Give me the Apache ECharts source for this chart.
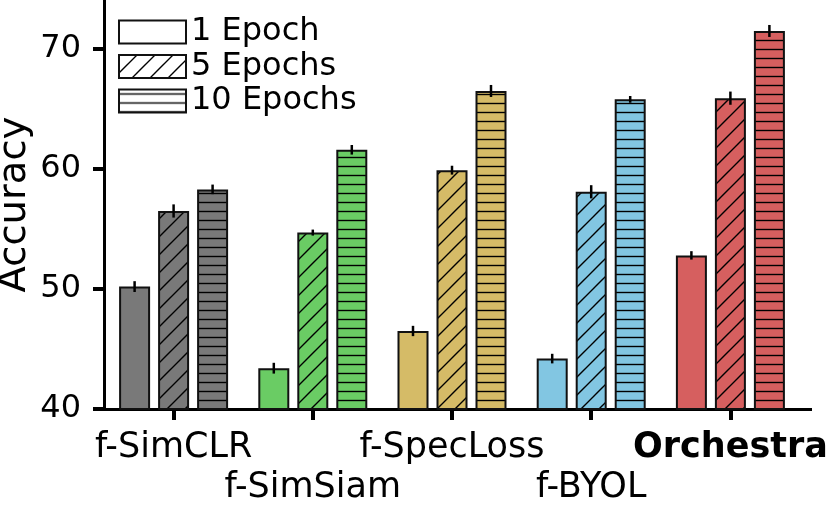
<!DOCTYPE html>
<html>
<head>
<meta charset="utf-8">
<script src="https://cdn.jsdelivr.net/npm/echarts@6/dist/echarts.min.js"></script>
<style>
html,body{margin:0;padding:0;background:#fff;}
#main{width:831px;height:511px;}
</style>
</head>
<body>
<div id="main"></div>
<script>
// ---- data ----
const categories = ['f-SimCLR', 'f-SimSiam', 'f-SpecLoss', 'f-BYOL', 'Orchestra'];
const methodColors = ['#797979', '#6acc64', '#d5bb67', '#82c6e2', '#d65f5f'];
const epochNames = ['1 Epoch', '5 Epochs', '10 Epochs'];
const acc1 = [50.2, 43.4, 46.5, 44.2, 52.8];
const acc5 = [56.5, 54.7, 59.9, 58.1, 65.9];
const acc10 = [58.3, 61.6, 66.5, 65.8, 71.5];
const err1 = [0.45, 0.45, 0.43, 0.4, 0.35];
const err5 = [0.55, 0.25, 0.37, 0.55, 0.55];
const err10 = [0.4, 0.4, 0.5, 0.28, 0.5];
const yTicks = [40, 50, 60, 70];

const FONT = 'DejaVu Sans';
const BAR_W = 31;
const BAR_GAP = 8;

function makePattern(bg, kind) {
  const c = document.createElement('canvas');
  const s = kind === 'diag' ? 18 : 9;
  c.width = s; c.height = s;
  const g = c.getContext('2d');
  g.fillStyle = bg; g.fillRect(0, 0, s, s);
  g.strokeStyle = '#000';
  g.lineWidth = 1.4;
  g.beginPath();
  if (kind === 'diag') {
    g.moveTo(-2, s + 2); g.lineTo(s + 2, -2);
    g.moveTo(-2, 2); g.lineTo(2, -2);
    g.moveTo(s - 2, s + 2); g.lineTo(s + 2, s - 2);
  } else if (kind === 'hline') {
    g.moveTo(0, 4.5); g.lineTo(s, 4.5);
  }
  g.stroke();
  return { image: c, repeat: 'repeat' };
}
const kinds = ['none', 'diag', 'hline'];
const accs = [acc1, acc5, acc10];
const errs = [err1, err5, err10];

const barSeries = epochNames.map((name, si) => ({
  name: name,
  type: 'bar',
  barWidth: BAR_W,
  barGap: (BAR_GAP / BAR_W * 100) + '%',
  itemStyle: { color: makePattern('#ffffff', kinds[si]), borderColor: '#111', borderWidth: 2 },
  data: accs[si].map((v, ci) => ({
    value: v,
    itemStyle: { color: makePattern(methodColors[ci], kinds[si]), borderColor: '#111', borderWidth: 2 }
  })),
  z: 2
}));

const errSeries = epochNames.map((name, si) => ({
  type: 'custom',
  name: name + ' err',
  z: 5,
  silent: true,
  encode: { x: 0, y: 1 },
  data: accs[si].map((v, ci) => [ci, v, errs[si][ci]]),
  renderItem: function (params, api) {
    const ci = api.value(0), v = api.value(1), e = api.value(2);
    const off = (si - 1) * (BAR_W + BAR_GAP);
    const top = api.coord([ci, v + e]);
    const bot = api.coord([ci, v - e]);
    return {
      type: 'line',
      shape: { x1: top[0] + off, y1: top[1], x2: bot[0] + off, y2: bot[1] },
      style: { stroke: '#000', lineWidth: 2.5 }
    };
  }
}));

const chart = echarts.init(document.getElementById('main'), null, { renderer: 'canvas' });
chart.setOption({
  animation: false,
  backgroundColor: '#fff',
  textStyle: { fontFamily: FONT },
  grid: { left: 104, right: 31, top: 0, bottom: 102, containLabel: false, outerBoundsMode: 'none' },
  legend: {
    orient: 'vertical',
    left: 118, top: 16,
    padding: 0,
    itemWidth: 67, itemHeight: 23,
    itemGap: 2.5,
    icon: 'rect',
    textStyle: { fontFamily: FONT, fontSize: 32, color: '#000' },
    data: epochNames.map((n, si) => ({
      name: n,
      itemStyle: { color: makePattern('#ffffff', kinds[si]), borderColor: '#111', borderWidth: 2, opacity: 1 }
    }))
  },
  xAxis: {
    type: 'category',
    data: categories,
    axisLine: { lineStyle: { color: '#000', width: 3 } },
    axisTick: { show: true, alignWithLabel: true, length: 11, lineStyle: { color: '#000', width: 4 } },
    axisLabel: {
      interval: 0,
      hideOverlap: false,
      margin: 19,
      color: '#000',
      formatter: function (val, idx) {
        const tag = val === 'Orchestra' ? 'b' : 'n';
        const t = '{' + tag + '|' + val + '}';
        return idx % 2 === 1 ? '{n| }\n' + t : t;
      },
      rich: {
        n: { fontFamily: FONT, fontSize: 35, lineHeight: 40, color: '#000' },
        b: { fontFamily: FONT, fontSize: 35, lineHeight: 40, fontWeight: 'bold', color: '#000' }
      }
    }
  },
  yAxis: {
    type: 'value',
    min: 40, max: 74.08,
    name: 'Accuracy',
    nameLocation: 'middle',
    nameGap: 70,
    nameMoveOverlap: false,
    nameTextStyle: { fontFamily: FONT, fontSize: 38.5, color: '#000' },
    splitLine: { show: false },
    axisLine: { show: true, lineStyle: { color: '#000', width: 3 } },
    axisTick: { show: true, length: 11, customValues: yTicks, lineStyle: { color: '#000', width: 4 } },
    axisLabel: { customValues: yTicks, margin: 23, fontFamily: FONT, fontSize: 32, color: '#000' }
  },
  series: barSeries.concat(errSeries)
});

// extend the x axis line a little past the last category band, as in the reference
const pLast = chart.convertToPixel({ xAxisIndex: 0 }, categories[categories.length - 1]);
const pPrev = chart.convertToPixel({ xAxisIndex: 0 }, categories[categories.length - 2]);
const yBase = chart.convertToPixel({ yAxisIndex: 0 }, 40);
if (isFinite(pLast) && isFinite(pPrev) && isFinite(yBase)) {
  const axisEnd = pLast + (pLast - pPrev) / 2;
  const yLine = Math.round(yBase) + 0.5;
  chart.setOption({
    graphic: [{
      type: 'line', silent: true, z: 10,
      shape: { x1: axisEnd - 6, y1: yLine, x2: axisEnd + 12, y2: yLine },
      style: { stroke: '#000', lineWidth: 3 }
    }]
  });
}
</script>
</body>
</html>
